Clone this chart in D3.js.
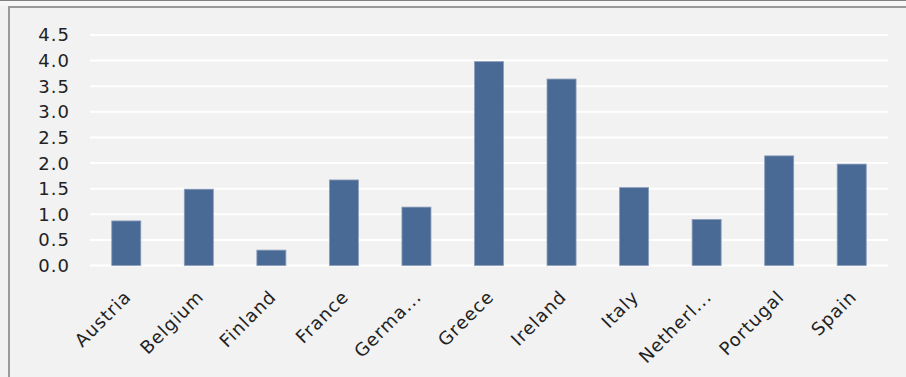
<!DOCTYPE html>
<html>
<head>
<meta charset="utf-8">
<script src="https://cdn.jsdelivr.net/npm/d3@7"></script>
<style>
  html, body { margin: 0; padding: 0; background: #f2f2f2; }
  svg { display: block; }
</style>
</head>
<body>
<script>
var countries = ["Austria", "Belgium", "Finland", "France", "Germa...", "Greece",
                 "Ireland", "Italy", "Netherl...", "Portugal", "Spain"];
var values = [0.87, 1.49, 0.30, 1.67, 1.14, 3.98, 3.64, 1.52, 0.90, 2.14, 1.98];
var yTicks = [0, 0.5, 1.0, 1.5, 2.0, 2.5, 3.0, 3.5, 4.0, 4.5];

var width = 906, height = 377;

var svg = d3.select("body").append("svg")
    .attr("width", width)
    .attr("height", height);

// frame
svg.append("rect").attr("x", 0).attr("y", 0).attr("width", width).attr("height", height)
    .attr("fill", "#f2f2f2");
svg.append("rect").attr("x", 0).attr("y", 0).attr("width", width).attr("height", 6)
    .attr("fill", "#f7f7f7");
svg.append("line").attr("x1", 0).attr("x2", width).attr("y1", 0.5).attr("y2", 0.5)
    .attr("stroke", "#808080");
svg.append("line").attr("x1", 8).attr("x2", width).attr("y1", 7).attr("y2", 7)
    .attr("stroke", "#9a9a9a").attr("stroke-width", 2);
svg.append("line").attr("x1", 9).attr("x2", 9).attr("y1", 6).attr("y2", height)
    .attr("stroke", "#9a9a9a").attr("stroke-width", 2);

var x = d3.scaleBand()
    .domain(countries)
    .range([90, 888])
    .paddingInner(0.6)
    .paddingOuter(0.3);

var y = d3.scaleLinear()
    .domain([0, 4.5])
    .range([265.5, 35]);

// gridlines
svg.append("g").selectAll("line")
    .data(yTicks)
    .enter().append("line")
    .attr("x1", 90).attr("x2", 888)
    .attr("y1", function(d) { return y(d); })
    .attr("y2", function(d) { return y(d); })
    .attr("stroke", "#ffffff")
    .attr("stroke-width", 2);

// y labels
svg.append("g").selectAll("text")
    .data(yTicks)
    .enter().append("text")
    .attr("x", 70)
    .attr("y", function(d) { return y(d); })
    .attr("dy", "0.36em")
    .attr("text-anchor", "end")
    .attr("font-family", "DejaVu Sans, sans-serif")
    .attr("font-size", 18)
    .attr("letter-spacing", 1)
    .attr("fill", "#222")
    .text(function(d) { return d3.format(".1f")(d); });

// bars
svg.append("g").selectAll("rect")
    .data(values)
    .enter().append("rect")
    .attr("x", function(d, i) { return x(countries[i]); })
    .attr("y", function(d) { return y(d); })
    .attr("width", x.bandwidth())
    .attr("height", function(d) { return y(0) - y(d); })
    .attr("fill", "#4a6a96")
    .attr("stroke", "#8a9dba")
    .attr("stroke-width", 0.8);

// x labels
svg.append("g").selectAll("text")
    .data(countries)
    .enter().append("text")
    .attr("transform", function(d) {
        return "translate(" + (x(d) + x.bandwidth() / 2 + 6) + ",298) rotate(-45)";
    })
    .attr("text-anchor", "end")
    .attr("font-family", "DejaVu Sans, sans-serif")
    .attr("font-size", 18)
    .attr("letter-spacing", 1)
    .attr("fill", "#222")
    .text(function(d) { return d; });
</script>
</body>
</html>
